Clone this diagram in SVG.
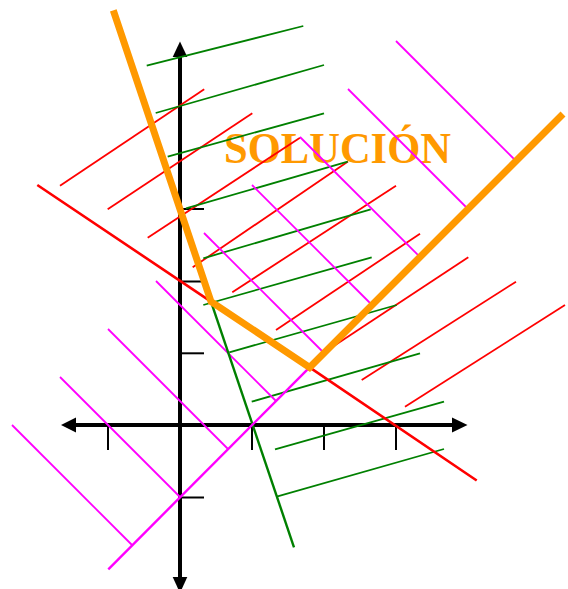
<svg xmlns="http://www.w3.org/2000/svg" width="568" height="589" viewBox="0 0 568 589">
  <style>
    .axis { stroke: #000; stroke-width: 4; fill: none; }
    .tick { stroke: #000; stroke-width: 2; fill: none; }
    .arrow { fill: #000; stroke: none; }
    .hr { stroke: #ff0000; stroke-width: 1.8; fill: none; }
    .hg { stroke: #008000; stroke-width: 1.8; fill: none; }
    .hm { stroke: #ff00ff; stroke-width: 1.8; fill: none; }
    .mr { stroke: #ff0000; stroke-width: 2.6; fill: none; }
    .mg { stroke: #008000; stroke-width: 2.4; fill: none; }
    .mm { stroke: #ff00ff; stroke-width: 2.4; fill: none; }
    .sol { stroke: #ff9900; stroke-width: 7; fill: none; }
    .label { font-family: "Liberation Serif", "Times New Roman", serif; font-weight: bold; font-size: 44px; fill: #ff9900; }
  </style>
  <rect width="568" height="589" fill="#fff"/>

  <g id="axes">
    <line class="axis" x1="74" y1="425" x2="454" y2="425"/>
    <line class="axis" x1="180" y1="55" x2="180" y2="580"/>
    <polygon class="arrow" points="61,425 76,417.5 76,432.5"/>
    <polygon class="arrow" points="467.5,425 452,417.5 452,432.5"/>
    <polygon class="arrow" points="180,41.5 172.7,57 187.3,57"/>
    <polygon class="arrow" points="180,593 172.7,577 187.3,577"/>
    <line class="tick" x1="108" y1="425" x2="108" y2="450"/>
    <line class="tick" x1="252" y1="425" x2="252" y2="450"/>
    <line class="tick" x1="324" y1="425" x2="324" y2="450"/>
    <line class="tick" x1="396" y1="425" x2="396" y2="450"/>
    <line class="tick" x1="180" y1="209" x2="204" y2="209"/>
    <line class="tick" x1="180" y1="281.5" x2="204" y2="281.5"/>
    <line class="tick" x1="180" y1="353.3" x2="204" y2="353.3"/>
    <line class="tick" x1="180" y1="497.5" x2="204" y2="497.5"/>
  </g>

  <g id="label">
    <text class="label" x="224" y="162.7" textLength="227" lengthAdjust="spacingAndGlyphs">SOLUCIÓN</text>
  </g>

  <g id="hatch-red">
    <line class="hr" x1="60" y1="185.7" x2="204.2" y2="89.3"/>
    <line class="hr" x1="107.7" y1="209.3" x2="252.3" y2="113.3"/>
    <line class="hr" x1="147.7" y1="237.7" x2="300" y2="137.7"/>
    <line class="hr" x1="192.7" y1="267.3" x2="348" y2="161.5"/>
    <line class="hr" x1="232.3" y1="292.3" x2="396" y2="185.7"/>
    <line class="hr" x1="276" y1="330" x2="420" y2="233.7"/>
    <line class="hr" x1="330" y1="348.6" x2="468.3" y2="257.3"/>
    <line class="hr" x1="361.7" y1="380" x2="516" y2="281.7"/>
    <line class="hr" x1="405" y1="406.7" x2="565" y2="305"/>
  </g>

  <g id="hatch-green">
    <line class="hg" x1="146.7" y1="65.7" x2="303.3" y2="26"/>
    <line class="hg" x1="155.7" y1="113" x2="324" y2="65"/>
    <line class="hg" x1="167.7" y1="156.7" x2="324" y2="113.3"/>
    <line class="hg" x1="186" y1="208.3" x2="347.7" y2="161.7"/>
    <line class="hg" x1="203.3" y1="258.3" x2="370.7" y2="209.3"/>
    <line class="hg" x1="203.3" y1="305" x2="371.7" y2="257.3"/>
    <line class="hg" x1="229.3" y1="352.3" x2="396.7" y2="305"/>
    <line class="hg" x1="251.7" y1="401.7" x2="420" y2="353.3"/>
    <line class="hg" x1="275" y1="449.3" x2="444" y2="401.7"/>
    <line class="hg" x1="276.7" y1="496.7" x2="444" y2="449"/>
  </g>

  <g id="hatch-magenta">
    <line class="hm" x1="12" y1="425" x2="132" y2="545"/>
    <line class="hm" x1="60" y1="377" x2="180" y2="497"/>
    <line class="hm" x1="108" y1="329" x2="228" y2="449"/>
    <line class="hm" x1="156" y1="281" x2="276" y2="401"/>
    <line class="hm" x1="204" y1="233" x2="324" y2="353"/>
    <line class="hm" x1="252" y1="185" x2="372" y2="305"/>
    <line class="hm" x1="300" y1="137" x2="420" y2="257"/>
    <line class="hm" x1="348" y1="89" x2="468" y2="209"/>
    <line class="hm" x1="396" y1="41" x2="516" y2="161"/>
  </g>

  <g id="line-red">
    <polyline class="mr" points="37.3,185 211,301.6 309.6,367.4 476.7,480.5"/>
  </g>
  <g id="line-green">
    <line class="mg" x1="211" y1="301.6" x2="294" y2="547.3"/>
  </g>
  <g id="line-magenta">
    <line class="mm" x1="108.3" y1="569.3" x2="309.6" y2="367.4"/>
  </g>

  <g id="solution">
    <polyline class="sol" points="113.3,10.3 211,301.6 309.6,367.4 563,114"/>
  </g>
</svg>
